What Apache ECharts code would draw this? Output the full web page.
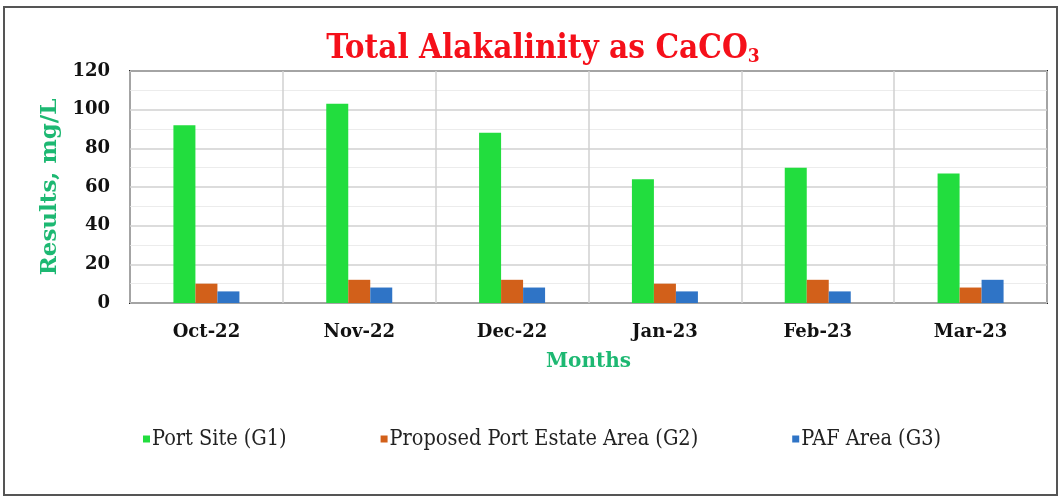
<!DOCTYPE html>
<html>
<head>
<meta charset="utf-8">
<script src="https://cdn.jsdelivr.net/npm/echarts@6/dist/echarts.min.js"></script>
<style>
  html, body { margin: 0; padding: 0; background: #fff; }
  #chart { width: 1060px; height: 497px; }
</style>
</head>
<body>
<div id="chart"></div>
<script>
// months on the x axis
var months = ['Oct-22', 'Nov-22', 'Dec-22', 'Jan-23', 'Feb-23', 'Mar-23'];

// results, mg/L
var portSite = [92, 103, 88, 64, 70, 67];
var portEstate = [10, 12, 12, 10, 12, 8];
var pafArea = [6, 8, 8, 6, 6, 12];

var seriesNames = ['Port Site (G1)', 'Proposed Port Estate Area (G2)', 'PAF Area (G3)'];

var tickFont = 'DejaVu Serif';
var green = '#22dd3e';
var orange = '#d2601a';
var blue = '#2f74c6';

var myChart = echarts.init(document.getElementById('chart'));

myChart.setOption({
	animation: false,
	title: {
		text: '{t|Total Alakalinity as CaCO}{s|3}',
		left: 538,
		textAlign: 'center',
		top: 26,
		textStyle: {
			rich: {
				t: {
					fontFamily: 'DejaVu Serif Condensed',
					fontWeight: 'bold',
					fontSize: 33,
					color: '#f5101a'
				},
				s: {
					fontFamily: 'DejaVu Serif Condensed',
					fontWeight: 'bold',
					fontSize: 19,
					color: '#f5101a',
					padding: [17, 0, 0, 0]
				}
			}
		}
	},
	graphic: [
		{
			// outer frame
			type: 'rect',
			shape: { x: 4, y: 7, width: 1053, height: 488 },
			style: { fill: 'none', stroke: '#555', lineWidth: 2 },
			silent: true
		}
	],
	legend: {
		data: seriesNames,
		bottom: 42,
		left: 138,
		itemWidth: 7,
		itemHeight: 7,
		itemGap: 94,
		icon: 'rect',
		textStyle: {
			fontFamily: 'DejaVu Serif Condensed',
			fontSize: 21.5,
			color: '#222',
			padding: [0, 0, 0, -3]
		}
	},
	grid: {
		left: 130,
		right: 13,
		top: 71,
		bottom: 194,
		show: true,
		borderColor: '#222',
		borderWidth: 2
	},
	xAxis: {
		type: 'category',
		data: months,
		name: 'Months',
		nameLocation: 'middle',
		nameGap: 49,
		nameTextStyle: {
			fontFamily: tickFont,
			fontWeight: 'bold',
			fontSize: 20,
			color: '#1db872'
		},
		axisTick: { show: false },
		axisLine: { show: false },
		axisLabel: {
			margin: 20,
			fontFamily: tickFont,
			fontWeight: 'bold',
			fontSize: 18,
			color: '#111'
		},
		splitLine: { show: true, lineStyle: { color: '#d0d0d0', width: 1.5 } }
	},
	yAxis: {
		type: 'value',
		min: 0,
		max: 120,
		interval: 20,
		name: 'Results, mg/L',
		nameLocation: 'middle',
		nameGap: 67,
		nameTextStyle: {
			fontFamily: tickFont,
			fontWeight: 'bold',
			fontSize: 23,
			color: '#1db872'
		},
		axisLine: { show: false },
		axisTick: { show: false },
		axisLabel: {
			margin: 20,
			fontFamily: tickFont,
			fontWeight: 'bold',
			fontSize: 18,
			color: '#111'
		},
		splitLine: { show: true, lineStyle: { color: '#d0d0d0', width: 1.5 } },
		minorTick: { show: false, splitNumber: 2 },
		minorSplitLine: { show: true, lineStyle: { color: '#ececec' } }
	},
	series: [
		{
			name: seriesNames[0],
			type: 'bar',
			barWidth: 22,
			barGap: '0%',
			itemStyle: { color: green },
			data: portSite
		},
		{
			name: seriesNames[1],
			type: 'bar',
			barWidth: 22,
			barGap: '0%',
			itemStyle: { color: orange },
			data: portEstate
		},
		{
			name: seriesNames[2],
			type: 'bar',
			barWidth: 22,
			barGap: '0%',
			itemStyle: { color: blue },
			data: pafArea
		}
	]
});
</script>
</body>
</html>
